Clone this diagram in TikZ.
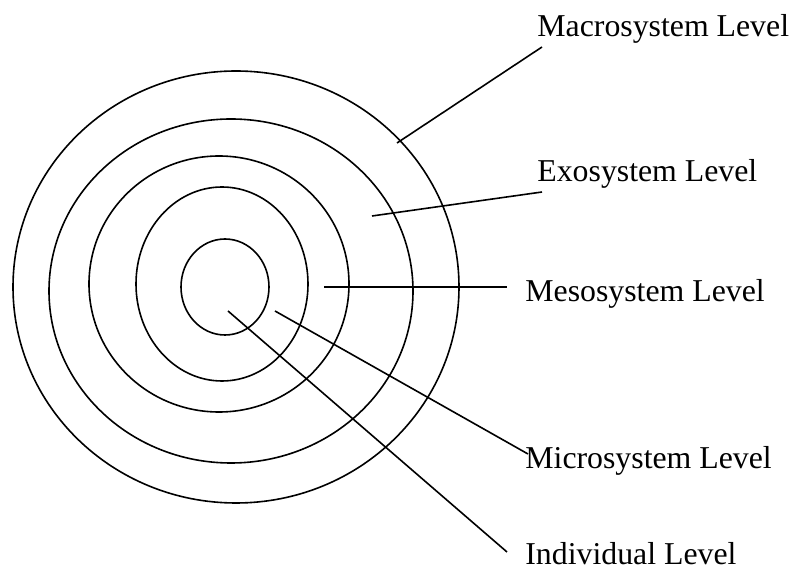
\documentclass[tikz,border=0pt]{standalone}
\usepackage{fontspec}
\setmainfont{Liberation Serif}
\usepackage{tikz}
\usetikzlibrary{positioning}

\tikzset{
  ring/.style={draw, line width=0.8pt},
  leader/.style={draw, line width=0.8pt},
  levellabel/.style={anchor=base west, inner sep=0pt, font=\fontsize{15.9}{19}\selectfont}
}

\begin{document}
\begin{tikzpicture}[x=0.5pt, y=-0.5pt]
        \useasboundingbox (0,0) rectangle (794,571);

        % Rings
        \draw [ring] (236,287) ellipse [x radius=223, y radius=216];
        \draw [ring] (231,291) ellipse [x radius=182, y radius=172];
        \draw [ring] (219,284) ellipse [x radius=130, y radius=128];
        \draw [ring] (222,284) ellipse [x radius=86, y radius=97];
        \draw [ring] (225,287) ellipse [x radius=44, y radius=48];

        % Labels
        \node [levellabel] (macro) at (537,37) {Macrosystem Level};
        \node [levellabel] (exo) at (537,182) {Exosystem Level};
        \node [levellabel] (meso) at (525,302) {Mesosystem Level};
        \node [levellabel] (micro) at (525,469) {Microsystem Level};
        \node [levellabel] (indiv) at (525,565) {Individual Level};

        % Leader lines
        \coordinate (macro_in) at (397,143);
        \coordinate (macro_out) at (542,47);
        \coordinate (exo_in) at (372,216);
        \coordinate (exo_out) at (542,192);
        \coordinate (meso_in) at (324,287);
        \coordinate (meso_out) at (507,287);
        \coordinate (micro_in) at (275,311);
        \coordinate (micro_out) at (528,454);
        \coordinate (indiv_in) at (228,311);
        \coordinate (indiv_out) at (507,552);
        \draw [leader] (macro_in) -- (macro_out);
        \draw [leader] (exo_in) -- (exo_out);
        \draw [leader] (meso_in) -- (meso_out);
        \draw [leader] (micro_in) -- (micro_out);
        \draw [leader] (indiv_in) -- (indiv_out);
    \end{tikzpicture}
\end{document}
